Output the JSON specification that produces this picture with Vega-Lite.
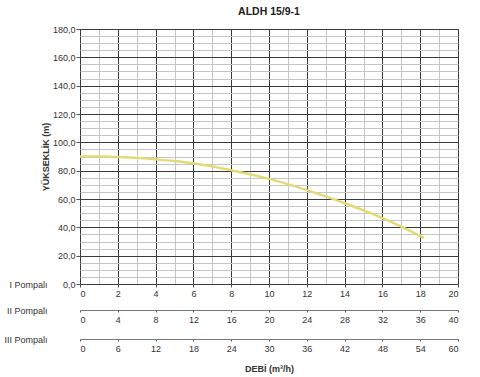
{
  "$schema": "https://vega.github.io/schema/vega-lite/v6.json",
  "autosize": "none",
  "width": 378,
  "height": 255,
  "padding": {"left": 80, "top": 29, "right": 22, "bottom": 93},
  "background": "white",
  "title": {"text": "ALDH 15/9-1", "fontSize": 10.5, "fontWeight": "bold", "font": "Liberation Sans", "color": "#222", "offset": 8, "anchor": "middle"},
  "config": {
    "view": {"stroke": "#333", "strokeWidth": 1},
    "axis": {"labelFont": "Liberation Sans", "labelFontSize": 9, "labelColor": "#333", "titleFont": "Liberation Sans", "titleFontSize": 9, "titleColor": "#333", "domainColor": "#555", "tickColor": "#555"}
  },
  "data": {"values": [
    {"q": 0, "h": 90}, {"q": 1, "h": 90}, {"q": 2, "h": 89.6}, {"q": 3, "h": 89}, {"q": 4, "h": 88},
    {"q": 5, "h": 86.8}, {"q": 6, "h": 85.2}, {"q": 7, "h": 83}, {"q": 8, "h": 80.3}, {"q": 9, "h": 77.5},
    {"q": 10, "h": 74.2}, {"q": 11, "h": 70.5}, {"q": 12, "h": 66.3}, {"q": 13, "h": 61.8}, {"q": 14, "h": 57},
    {"q": 15, "h": 51.9}, {"q": 16, "h": 46.5}, {"q": 17, "h": 40.5}, {"q": 18.2, "h": 32.5}
  ]},
  "layer": [
    {
      "mark": {"type": "line", "color": "#e4da74", "strokeWidth": 2.4, "interpolate": "monotone"},
      "encoding": {
        "x": {"field": "q", "type": "quantitative", "scale": {"domain": [0, 20], "nice": false},
          "axis": {"orient": "bottom", "values": [0,1,2,3,4,5,6,7,8,9,10,11,12,13,14,15,16,17,18,19,20],
            "grid": true,
            "gridColor": {"condition": {"test": "datum.value % 2 === 0", "value": "#3a3a3a"}, "value": "#c4c4c4"},
            "tickOpacity": {"condition": {"test": "datum.value % 2 === 0", "value": 1}, "value": 0},
            "tickSize": 3,
            "labelExpr": "datum.value % 2 === 0 ? datum.label : ''",
            "labelPadding": 2,
            "domain": false,
            "title": "I Pompalı", "titleFontWeight": "normal", "titleX": -33, "titleY": 0, "titleAlign": "right", "titleBaseline": "middle"}},
        "y": {"field": "h", "type": "quantitative", "scale": {"domain": [0, 180], "nice": false},
          "axis": {"values": [0,5,10,15,20,25,30,35,40,45,50,55,60,65,70,75,80,85,90,95,100,105,110,115,120,125,130,135,140,145,150,155,160,165,170,175,180],
            "grid": true,
            "gridColor": {"condition": {"test": "datum.value % 20 === 0", "value": "#3a3a3a"}, "value": "#c4c4c4"},
            "tickOpacity": {"condition": {"test": "datum.value % 20 === 0", "value": 1}, "value": 0},
            "tickSize": 4,
            "labelExpr": "datum.value % 20 === 0 ? replace(format(datum.value, '.1f'), '.', ',') : ''",
            "labelPadding": 1,
            "domain": false,
            "title": "YÜKSEKLİK (m)", "titleFontWeight": "bold", "titleX": -35, "titleY": 127.5, "titleAngle": -90, "titleAlign": "center", "titleBaseline": "middle"}}
      }
    },
    {
      "mark": {"type": "rule", "opacity": 0},
      "encoding": {
        "x": {"datum": 0, "type": "quantitative", "scale": {"domain": [0, 40], "nice": false},
          "axis": {"orient": "bottom", "offset": 26, "values": [0,4,8,12,16,20,24,28,32,36,40], "grid": false,
            "tickSize": 2, "labelPadding": 3, "domain": true, "domainColor": "#777",
            "title": "II Pompalı", "titleFontWeight": "normal", "titleX": -33, "titleY": 0, "titleAlign": "right", "titleBaseline": "middle"}}
      }
    },
    {
      "mark": {"type": "rule", "opacity": 0},
      "encoding": {
        "x": {"datum": 0, "type": "quantitative", "scale": {"domain": [0, 60], "nice": false},
          "axis": {"orient": "bottom", "offset": 55, "values": [0,6,12,18,24,30,36,42,48,54,60], "grid": false,
            "tickSize": 2, "labelPadding": 3, "domain": true, "domainColor": "#777",
            "title": "III Pompalı", "titleFontWeight": "normal", "titleX": -33, "titleY": 0, "titleAlign": "right", "titleBaseline": "middle"}}
      }
    },
    {
      "mark": {"type": "rule", "opacity": 0},
      "encoding": {
        "x": {"datum": 0, "type": "quantitative", "scale": {"domain": [0, 1], "nice": false},
          "axis": {"orient": "bottom", "offset": 84, "values": [], "grid": false, "ticks": false, "labels": false, "domain": false,
            "title": "DEBİ (m³/h)", "titleFontWeight": "bold", "titleX": 189, "titleY": 0, "titleAlign": "center", "titleBaseline": "middle"}}
      }
    }
  ],
  "resolve": {"scale": {"x": "independent"}, "axis": {"x": "independent"}}
}
